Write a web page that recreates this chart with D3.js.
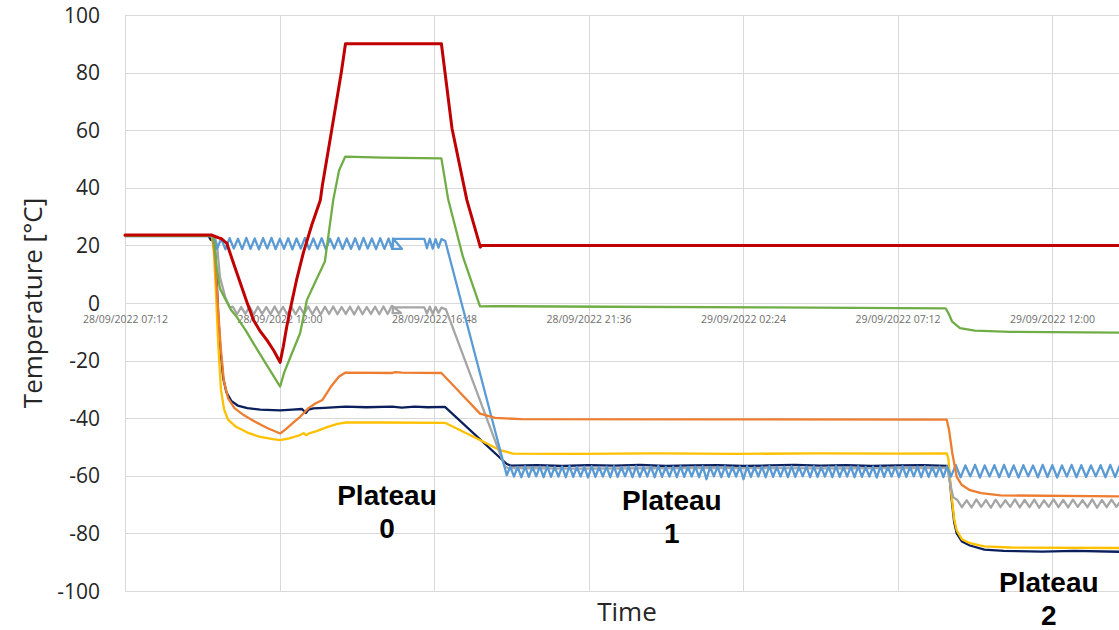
<!DOCTYPE html>
<html>
<head>
<meta charset="utf-8">
<script src="https://cdn.jsdelivr.net/npm/d3@7"></script>
<style>
  body { margin: 0; background: #fff; }
  svg { display: block; }
</style>
</head>
<body>
<svg id="chart" width="1119" height="630"></svg>
<script>
// ---- data: hours since the start of the log, temperature in °C ----
const startLabel = "28/09/2022 07:12";
const xTickLabels = ["28/09/2022 07:12", "28/09/2022 12:00", "28/09/2022 16:48",
                     "28/09/2022 21:36", "29/09/2022 02:24", "29/09/2022 07:12",
                     "29/09/2022 12:00"];
const yTicks = [-100, -80, -60, -40, -20, 0, 20, 40, 60, 80, 100];

// logged samples taken at a fixed interval: [first hour, interval, values]
function samples(first, step, values) {
  return values.map((v, i) => [first + i * step, v]);
}

const redSeries = [[0, 23.6], [2.70, 23.6], [2.80, 23.1], [2.92, 22.6], [3.00, 22.3], [3.16, 20.8],
  [3.35, 14.5], [3.58, 7.0], [3.78, 0.5], [3.99, -5.9], [4.20, -9.8], [4.41, -12.9], [4.62, -16.5],
  [4.82, -20.6], [4.92, -15.0], [5.02, -8.5], [5.13, -2.4], [5.33, 8.0], [5.54, 17.4], [5.80, 27.0],
  [6.07, 35.8], [6.13, 40.7], [6.43, 60.6], [6.72, 80.0], [6.85, 90.0], [9.83, 90.0], [10.16, 60.6],
  [10.62, 35.8], [11.04, 19.4], [11.08, 20.0], [31.5, 20.0]];

const greenSeries = [[0, 23.4], [2.72, 23.4], [2.78, 20.0], [2.85, 12.0], [2.95, 5.0], [3.11, 1.5],
  [3.30, -2.5], [3.47, -4.8], [3.75, -9.5], [3.99, -14.0], [4.40, -21.5], [4.82, -29.0], [4.95, -24.0],
  [5.13, -19.0], [5.44, -10.5], [5.65, 1.0], [5.90, 7.0], [6.21, 14.4], [6.47, 35.8], [6.65, 46.0],
  [6.84, 50.8], [8.00, 50.5], [9.83, 50.2], [10.04, 36.0], [10.50, 16.0], [11.03, -1.2], [11.40, -1.1],
  [15.0, -1.3], [20.0, -1.5], [25.50, -1.9], [25.58, -3.5], [25.70, -6.5], [25.94, -8.7], [26.40, -9.6],
  [27.50, -10.0], [31.5, -10.3]];

const orangeSeries = [[0, 23.3], [2.72, 23.3], [2.80, 15.0], [2.88, 0.0], [2.97, -15.0], [3.07, -27.0],
  [3.20, -33.0], [3.40, -36.5], [3.70, -39.0], [4.00, -41.0], [4.40, -43.3], [4.82, -45.3], [5.00, -43.8],
  [5.20, -41.8], [5.44, -39.5], [5.70, -36.5], [5.90, -35.0], [6.13, -33.7], [6.40, -29.0], [6.65, -25.5],
  [6.84, -24.2], [8.30, -24.3], [8.40, -24.0], [8.60, -24.2], [9.83, -24.3], [10.40, -31.0], [11.03, -38.4],
  [11.50, -39.9], [12.30, -40.3], [18.0, -40.4], [25.53, -40.5], [25.60, -44.0], [25.70, -52.0],
  [25.84, -60.4], [26.00, -63.2], [26.25, -65.0], [26.60, -66.0], [27.20, -66.8], [31.5, -67.2]];

const yellowSeries = [[0, 23.3], [2.70, 23.3], [2.76, 18.0], [2.82, 5.0], [2.90, -15.0], [2.98, -30.0],
  [3.08, -37.0], [3.20, -40.5], [3.45, -43.0], [3.80, -45.0], [4.20, -46.5], [4.60, -47.3], [4.82, -47.6],
  [5.10, -47.0], [5.40, -46.0], [5.55, -45.2], [5.62, -45.9], [5.72, -45.3], [5.95, -44.5], [6.30, -43.0],
  [6.60, -42.0], [6.84, -41.5], [8.00, -41.5], [9.94, -41.6], [11.03, -47.6], [11.65, -51.1],
  [12.06, -52.3], [14.0, -52.4], [16.5, -52.2], [19.0, -52.4], [21.5, -52.2], [24.0, -52.3],
  [25.53, -52.2], [25.58, -54.0], [25.66, -65.0], [25.76, -75.0], [25.84, -79.0], [26.00, -82.0],
  [26.25, -83.4], [26.70, -84.5], [27.50, -84.9], [31.5, -85.1]];

const navySeries = [[0, 23.3], [2.60, 23.3], [2.66, 22.0], [2.72, 21.7], [2.78, 21.2], [2.84, 10.0],
  [2.90, -5.0], [2.97, -17.0], [3.05, -26.0], [3.15, -31.0], [3.30, -34.0], [3.50, -35.6], [3.80, -36.5],
  [4.20, -37.0], [4.82, -37.3], [5.20, -37.0], [5.50, -36.8], [5.62, -38.2], [5.70, -37.0], [5.85, -36.6],
  [6.20, -36.4], [6.85, -36.0], [7.50, -36.2], [8.30, -36.0], [8.60, -36.3], [9.00, -36.0], [9.40, -36.2],
  [9.94, -36.1], [11.86, -55.9], [12.00, -56.5], [12.8, -56.3], [13.6, -56.6], [14.4, -56.3],
  [15.2, -56.5], [16.0, -56.2], [16.8, -56.6], [17.6, -56.4], [18.4, -56.3], [19.2, -56.6],
  [20.0, -56.4], [20.8, -56.2], [21.6, -56.5], [22.4, -56.3], [23.2, -56.6], [24.0, -56.4],
  [24.8, -56.3], [25.55, -56.6], [25.60, -58.0], [25.68, -68.0], [25.76, -76.0], [25.84, -80.0],
  [26.00, -82.8], [26.25, -84.2], [26.70, -85.6], [27.30, -86.1], [28.5, -86.3], [29.5, -86.1],
  [31.5, -86.5]];

// cycling channels: set-point regulation around the plateau temperature
const blueCycle0 = [18.8, 22.4, 18.6, 22.5, 18.9, 22.3, 18.7, 22.6, 18.8, 22.4, 18.6, 22.5, 18.9, 22.6,
  18.7, 22.3, 18.8, 22.5, 18.6, 22.4, 18.9, 22.6, 18.7, 22.4, 18.8, 22.5, 18.6, 22.3, 18.9, 22.6, 18.7,
  22.4, 18.8, 22.5, 18.6, 22.6, 18.9, 22.4, 18.7, 22.5, 18.8, 22.4];
const blueCycle1 = [-56.8, -60.3, -56.9, -60.5, -56.7, -60.4, -56.9, -60.2, -56.8, -60.5,
  -56.7, -60.4, -56.9, -60.3, -56.8, -60.5, -56.6, -60.4, -56.9, -60.3,
  -56.8, -60.6, -56.7, -60.4, -56.9, -60.3, -56.8, -60.5, -56.7, -60.4,
  -56.9, -60.2, -56.8, -60.5, -56.7, -60.4, -56.9, -60.3, -56.8, -60.5,
  -56.6, -60.4, -56.9, -60.3, -56.8, -60.5, -56.7, -60.4, -56.9, -60.3,
  -56.8, -60.5, -56.7, -61.2, -56.9, -60.2, -56.8, -60.5, -56.7, -60.4,
  -56.9, -60.3, -56.8, -61.2, -56.7, -60.4, -56.9, -60.3, -56.8, -60.5,
  -56.6, -60.4, -56.9, -60.3, -56.8, -60.5, -56.7, -60.4, -56.9, -60.2,
  -56.8, -60.5, -56.7, -60.4, -56.9, -60.3, -56.8, -60.5, -56.6, -60.4,
  -56.9, -60.3, -56.8, -60.5, -56.7, -60.4, -56.9, -60.3, -56.8, -60.6,
  -56.7, -60.4, -56.9, -60.3, -56.8, -60.5, -56.7, -60.4, -56.9, -60.2,
  -56.8, -60.5, -56.7, -60.4, -56.9, -60.3, -56.8, -60.5, -56.7];
const blueCycle2 = [-60.3, -56.3, -60.5, -56.4, -60.2, -56.2, -60.6, -56.4, -60.3, -56.3,
  -60.5, -56.2, -60.4, -56.4, -60.6, -56.3, -60.2, -56.4, -60.5, -56.2,
  -60.4, -56.3, -60.6, -56.4, -60.3, -56.2, -60.5, -56.3, -60.4, -56.4,
  -60.2, -56.3, -60.5, -56.2, -60.4, -56.3, -60.5, -56.4];
const greyCycle0 = [-1.3, -3.9, -1.4, -3.8, -1.2, -4.0, -1.3, -3.8, -1.4, -3.9, -1.2, -3.8, -1.3, -4.0,
  -1.4, -3.9, -1.3, -3.8, -1.2, -3.9, -1.4, -4.0, -1.3, -3.8, -1.2, -3.9, -1.4, -3.8, -1.3, -4.0, -1.2,
  -3.9, -1.4, -3.8, -1.3, -3.9, -1.2, -3.8];
const greyCycle2 = [-68.3, -70.9, -68.5, -71.0, -68.2, -70.8, -68.4, -71.1, -68.3, -70.9,
  -68.5, -70.8, -68.2, -71.0, -68.4, -70.9, -68.3, -71.1, -68.5, -70.8,
  -68.2, -70.9, -68.4, -71.0, -68.3, -70.8, -68.5, -70.9, -68.2, -71.1,
  -68.4, -70.9, -68.3, -70.8, -68.5, -71.0, -68.3];

const blueSeries = [[0, 23.2], [2.72, 23.2], [2.80, 21.5]]
  .concat(samples(2.86, 0.13, blueCycle0))
  .concat([[8.30, 18.7], [8.33, 22.4], [8.60, 18.8], [8.31, 18.8], [8.34, 22.3], [9.30, 22.3],
    [9.38, 19.0], [9.47, 22.3], [9.56, 18.9], [9.65, 22.2], [9.74, 19.2], [9.83, 22.2], [9.95, 21.5],
    [11.86, -59.8]])
  .concat(samples(11.97, 0.115, blueCycle1))
  .concat(samples(25.66, 0.15, blueCycle2));

const greySeries = [[0, 23.2], [2.70, 23.2], [2.80, 22.5], [2.86, 20.0], [2.95, 9.0], [3.11, 2.2],
  [3.25, -1.5]]
  .concat(samples(3.35, 0.13, greyCycle0))
  .concat([[8.28, -1.2], [8.30, -1.0], [8.58, -3.5], [8.31, -3.5], [8.34, -1.4], [9.30, -1.5],
    [9.38, -3.7], [9.47, -1.3], [9.56, -3.8], [9.65, -1.4], [9.74, -3.5], [9.83, -1.6], [9.97, -2.2],
    [11.80, -56.8], [11.90, -57.3], [14.0, -57.5], [18.0, -57.3], [22.0, -57.4], [25.55, -57.2],
    [25.62, -62.0], [25.73, -67.4]])
  .concat(samples(25.85, 0.15, greyCycle2));

const seriesList = [
  { name: "navy",   color: "#0a1f5c", width: 2.3, data: navySeries },
  { name: "yellow", color: "#ffc000", width: 2.3, data: yellowSeries },
  { name: "grey",   color: "#a5a5a5", width: 2.3, data: greySeries },
  { name: "blue",   color: "#5b9bd5", width: 2.3, data: blueSeries },
  { name: "orange", color: "#ed7d31", width: 2.3, data: orangeSeries },
  { name: "green",  color: "#70ad47", width: 2.3, data: greenSeries },
  { name: "red",    color: "#c00000", width: 3.0, data: redSeries }
];

const plateauNotes = [
  { label: "Plateau", index: "0", hour: 8.14,  temp: -70.0 },
  { label: "Plateau", index: "1", hour: 16.99, temp: -72.0 },
  { label: "Plateau", index: "2", hour: 28.70, temp: -100.5 }
];

// ---- scales ----
const parseStamp = d3.timeParse("%d/%m/%Y %H:%M");
const formatStamp = d3.timeFormat("%d/%m/%Y %H:%M");
const t0 = parseStamp(startLabel);
const at = h => new Date(t0.getTime() + h * 3600e3);
const tickTimes = xTickLabels.map(parseStamp);
const step = tickTimes[1] - tickTimes[0];
const tEnd = new Date(tickTimes[tickTimes.length - 1].getTime() + step);

const plotLeft = 125, plotTop = 15, plotBottom = 591;
const x = d3.scaleTime().domain([t0, tEnd]).range([plotLeft, plotLeft + 7 * 154.5]);
const y = d3.scaleLinear().domain([-100, 100]).range([plotBottom, plotTop]);

const svg = d3.select("#chart");
svg.append("rect").attr("width", 1119).attr("height", 630).attr("fill", "#fff");

// gridlines
const grid = svg.append("g").attr("stroke", "#d9d9d9").attr("stroke-width", 1).attr("shape-rendering", "crispEdges");
grid.selectAll("line.h").data(yTicks).join("line")
  .attr("x1", plotLeft).attr("x2", x.range()[1])
  .attr("y1", d => Math.round(y(d)) + 0.5).attr("y2", d => Math.round(y(d)) + 0.5);
grid.selectAll("line.v").data(tickTimes).join("line")
  .attr("x1", d => Math.round(x(d)) + 0.5).attr("x2", d => Math.round(x(d)) + 0.5)
  .attr("y1", plotTop).attr("y2", plotBottom);

// y axis labels (plain hyphen for negatives)
const yAxis = d3.axisLeft(y).tickValues(yTicks).tickFormat(d => String(d)).tickSize(0).tickPadding(25);
const gy = svg.append("g").attr("transform", `translate(${plotLeft},0)`).call(yAxis);
gy.select(".domain").remove();
gy.selectAll("text").attr("font-family", "'Open Sans', sans-serif").attr("font-size", 21)
  .attr("fill", "#262626").attr("dy", "0.34em");

// time labels sit under the 0 °C line
const xAxis = d3.axisBottom(x).tickValues(tickTimes).tickFormat(formatStamp).tickSize(0).tickPadding(13);
const gx = svg.append("g").attr("transform", `translate(0,${y(0)})`).call(xAxis);
gx.select(".domain").remove();
gx.selectAll("text").attr("font-family", "'Open Sans', sans-serif").attr("font-size", 10.5)
  .attr("fill", "#6e6e6e");

// temperature traces
const line = d3.line().x(d => x(at(d[0]))).y(d => y(d[1]));
svg.append("g").selectAll("path").data(seriesList).join("path")
  .attr("d", s => line(s.data))
  .attr("fill", "none")
  .attr("stroke", s => s.color)
  .attr("stroke-width", s => s.width)
  .attr("stroke-linejoin", "round")
  .attr("stroke-linecap", "round");

// axis titles
svg.append("text").attr("transform", `translate(42,${y(0)}) rotate(-90)`)
  .attr("text-anchor", "middle").attr("font-family", "'Open Sans', sans-serif")
  .attr("font-size", 26).attr("fill", "#262626").text("Temperature [°C]");
svg.append("text").attr("x", 627).attr("y", 621)
  .attr("text-anchor", "middle").attr("font-family", "'Open Sans', sans-serif")
  .attr("font-size", 26).attr("fill", "#262626").text("Time");

// plateau annotations
const notes = svg.append("g").attr("font-family", "'Liberation Sans', Arial, sans-serif")
  .attr("font-weight", "bold").attr("font-size", 28).attr("fill", "#000").attr("text-anchor", "middle");
plateauNotes.forEach(n => {
  const t = notes.append("text").attr("x", x(at(n.hour))).attr("y", y(n.temp));
  t.append("tspan").attr("x", x(at(n.hour))).text(n.label);
  t.append("tspan").attr("x", x(at(n.hour))).attr("dy", 33).text(n.index);
});
</script>
</body>
</html>
